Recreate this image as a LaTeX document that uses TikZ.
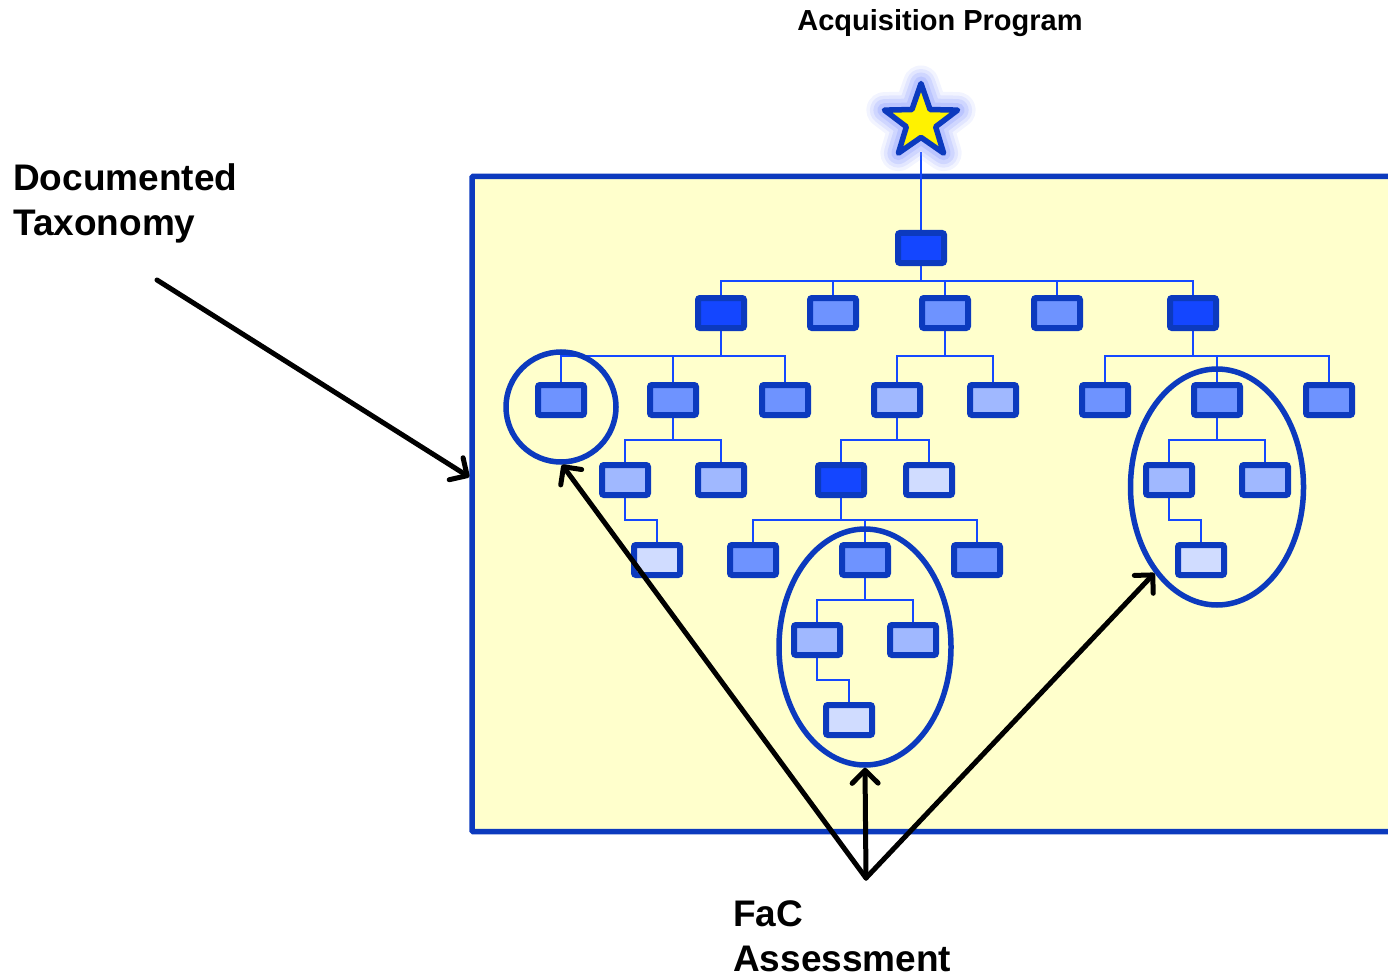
\documentclass[tikz,border=0pt]{standalone}
\usepackage{fontspec}
\setmainfont{Liberation Sans}
\usetikzlibrary{shapes.geometric,arrows.meta}
\pgfdeclarelayer{bg}
\pgfsetlayers{bg,main}
\definecolor{frameblue}{RGB}{12,58,190}
\definecolor{linkblue}{RGB}{20,72,255}
\definecolor{fdark}{RGB}{20,70,255}
\definecolor{fmed}{RGB}{110,147,255}
\definecolor{flight}{RGB}{160,184,255}
\definecolor{fvlight}{RGB}{208,220,255}
\definecolor{paper}{RGB}{255,255,204}
\definecolor{glowblue}{RGB}{150,165,255}
\newcommand\tconn[3]{\draw[cn] (#1.south) -- (#1.south |- 0,#3) -| (#2.north);}
\begin{document}
\begin{tikzpicture}[x=1pt,y=-1pt,
  bx/.style={draw=frameblue, line width=6pt, rounded corners=2pt, minimum width=46pt, minimum height=30pt, inner sep=0pt},
  dk/.style={bx, fill=fdark},
  md/.style={bx, fill=fmed},
  lt/.style={bx, fill=flight},
  vl/.style={bx, fill=fvlight},
  cn/.style={draw=linkblue, line width=2.2pt},
  ring/.style={draw=frameblue, line width=5.5pt, inner sep=0pt},
  arr/.style={draw=black, line width=5pt, line cap=round, -{Straight Barb[length=13pt,width=26pt,round]}},
  lbl/.style={font=\bfseries, inner sep=0pt, align=left},
  starsh/.style={star, star points=5, star point ratio=2.5, minimum size=77pt, inner sep=0pt, line join=round}
]
\useasboundingbox (0,0) rectangle (1388,976);
\clip (0,0) rectangle (1388,976);

% frame (background layer)
\begin{pgfonlayer}{bg}
\node[draw=frameblue, fill=paper, line width=5.5pt, rounded corners=1pt, minimum width=938pt, minimum height=655pt, inner sep=0pt] (frame) at (941,504) {};
\end{pgfonlayer}

% star with glow
\foreach \w/\o in {36/0.12, 29/0.18, 22/0.25, 14/0.35} {
  \node[starsh, draw=glowblue, fill=glowblue, line width=\w pt, opacity=\o] at (921,122) {};
}
\node[starsh, draw=frameblue, fill=yellow, line width=5.5pt] (apstar) at (921,122) {};

% boxes
\node[dk] (b0) at (921,248) {};
\node[dk] (b1a) at (721,313) {};
\node[md] (b1b) at (833,313) {};
\node[md] (b1c) at (945,313) {};
\node[md] (b1d) at (1057,313) {};
\node[dk] (b1e) at (1193,313) {};
\node[md] (b2a) at (561,400) {};
\node[md] (b2b) at (673,400) {};
\node[md] (b2c) at (785,400) {};
\node[lt] (b2d) at (897,400) {};
\node[lt] (b2e) at (993,400) {};
\node[md] (b2f) at (1105,400) {};
\node[md] (b2g) at (1217,400) {};
\node[md] (b2h) at (1329,400) {};
\node[lt] (b3a) at (625,480) {};
\node[lt] (b3b) at (721,480) {};
\node[dk] (b3c) at (841,480) {};
\node[vl] (b3d) at (929,480) {};
\node[lt] (b3e) at (1169,480) {};
\node[lt] (b3f) at (1265,480) {};
\node[vl] (b4a) at (657,560) {};
\node[md] (b4b) at (753,560) {};
\node[md] (b4c) at (865,560) {};
\node[md] (b4d) at (977,560) {};
\node[vl] (b4e) at (1201,560) {};
\node[lt] (b5a) at (817,640) {};
\node[lt] (b5b) at (913,640) {};
\node[vl] (b6a) at (849,720) {};

% connectors (background layer)
\begin{pgfonlayer}{bg}
\draw[cn] (apstar.center |- 0,152) -- (b0.north);
\foreach \c in {b1a,b1b,b1c,b1d,b1e} {\tconn{b0}{\c}{281}}
\foreach \c in {b2a,b2b,b2c} {\tconn{b1a}{\c}{356}}
\foreach \c in {b2d,b2e} {\tconn{b1c}{\c}{356}}
\foreach \c in {b2f,b2g,b2h} {\tconn{b1e}{\c}{356}}
\foreach \c in {b3a,b3b} {\tconn{b2b}{\c}{440}}
\foreach \c in {b3c,b3d} {\tconn{b2d}{\c}{440}}
\foreach \c in {b3e,b3f} {\tconn{b2g}{\c}{440}}
\tconn{b3a}{b4a}{520}
\foreach \c in {b4b,b4c,b4d} {\tconn{b3c}{\c}{520}}
\tconn{b3e}{b4e}{520}
\foreach \c in {b5a,b5b} {\tconn{b4c}{\c}{600}}
\tconn{b5a}{b6a}{680}
\end{pgfonlayer}

% FaC rings
\node[ring, circle, minimum size=110pt] (c1) at (561,407) {};
\node[ring, ellipse, minimum width=172pt, minimum height=236pt] (c2) at (865,647) {};
\node[ring, ellipse, minimum width=173pt, minimum height=236pt] (c3) at (1217,487) {};

% labels
\node[lbl, anchor=base, font=\bfseries\fontsize{29}{34}\selectfont] (acq) at (940,31) {Acquisition Program};
\node[lbl, anchor=base west, font=\bfseries\fontsize{37}{45}\selectfont] (tax) at (13,236) {Documented\\Taxonomy};
\node[lbl, anchor=base west, font=\bfseries\fontsize{37}{45}\selectfont] (fac) at (733,971) {FaC\\Assessment};

% arrows
\coordinate (taxstart) at (157,280);
\coordinate (facpt) at (866,878);
\draw[arr] (taxstart) -- (frame.west |- 0,477);
\draw[arr] (facpt) -- (c1.-89);
\draw[arr] (facpt) -- (c2.south);
\draw[arr] (facpt) -- (c3.-126);
\end{tikzpicture}
\end{document}
